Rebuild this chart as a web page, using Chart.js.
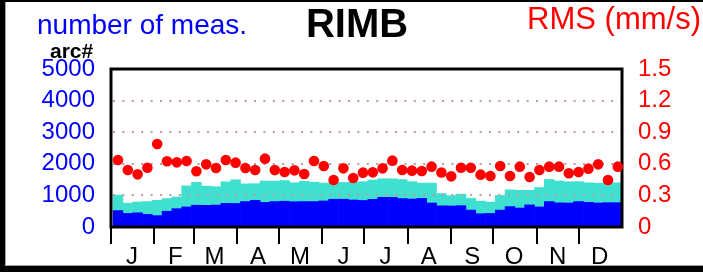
<!DOCTYPE html>
<html>
<head>
<meta charset="utf-8">
<script src="https://cdn.jsdelivr.net/npm/chart.js@4.4.1/dist/chart.umd.min.js"></script>
<style>
  html, body { margin: 0; padding: 0; background: #fff; }
  #frame { position: relative; width: 698px; height: 264px; border-top: 2px solid #000; border-left: 5px solid #000; border-bottom: 6px solid #000; }
  #inner { position: absolute; left: 0; top: 0; width: 697px; height: 263px; border-left: 1px solid #a0a0a0; border-bottom: 1px solid #a0a0a0; }
  .lbl { position: absolute; white-space: nowrap; font-family: "Liberation Sans", Arial, sans-serif; line-height: 1; }
</style>
</head>
<body>
<div id="frame">
  <div id="inner"><canvas id="graph1" width="697" height="263"></canvas></div>
</div>
<div class="lbl" style="left:37px; top:11px; font-size:28px; color:#0000ff;">number of meas.</div>
<div class="lbl" style="left:357px; top:3px; font-size:40px; font-weight:bold; color:#000; transform:translateX(-50%);">RIMB</div>
<div class="lbl" style="right:2px; top:3px; font-size:31px; color:#ff0000;">RMS (mm/s)</div>
<div class="lbl" style="left:50px; top:40px; font-size:21px; font-weight:bold; color:#000;">arc#</div>
<script>
// day of year at the middle of each weekly bin
var weekDays = [5, 12, 19, 26, 33, 40, 47, 54, 61, 68, 75, 82, 89, 96, 103, 110, 117, 124, 131, 138,
  145, 152, 159, 166, 173, 180, 187, 194, 201, 208, 215, 222, 229, 236, 243, 250, 257, 264, 271, 278,
  285, 292, 299, 306, 313, 320, 327, 334, 341, 348, 355, 362];

// number of measurements (blue part, turquoise part on top)
var blueCounts = [520, 430, 450, 400, 360, 500, 580, 635, 690, 685, 695, 750, 745, 805, 845, 780, 805, 815, 800, 805,
  805, 825, 878, 880, 855, 840, 875, 940, 940, 900, 885, 905, 760, 670, 665, 675, 535, 420, 430, 535,
  645, 600, 700, 635, 805, 765, 760, 805, 780, 760, 770, 770];
var cyanCounts = [490, 325, 340, 405, 485, 400, 370, 665, 725, 610, 580, 680, 750, 560, 525, 675, 650, 655, 600, 640,
  615, 565, 522, 530, 560, 595, 610, 585, 585, 600, 550, 485, 630, 390, 330, 365, 375, 400, 360, 465,
  530, 560, 460, 615, 700, 690, 670, 630, 620, 625, 630, 630];

// RMS (mm/s)
var rmsValues = [0.636, 0.541, 0.500, 0.563, 0.788, 0.624, 0.614, 0.627, 0.529, 0.595, 0.560, 0.636, 0.611, 0.560, 0.541, 0.649, 0.540, 0.522, 0.538, 0.503,
  0.627, 0.579, 0.446, 0.557, 0.465, 0.516, 0.519, 0.557, 0.630, 0.541, 0.535, 0.532, 0.573, 0.518, 0.481, 0.563, 0.563, 0.497, 0.484, 0.579,
  0.484, 0.573, 0.475, 0.541, 0.573, 0.573, 0.510, 0.522, 0.554, 0.595, 0.446, 0.573];

var monthStarts = [0, 31, 59, 90, 120, 151, 181, 212, 243, 273, 304, 334];
var monthLabels = ['J', 'F', 'M', 'A', 'M', 'J', 'J', 'A', 'S', 'O', 'N', 'D'];
var countTicks = [0, 1000, 2000, 3000, 4000, 5000];
var rmsTicks = [0, 0.3, 0.6, 0.9, 1.2, 1.5];

var fontFamily = '"Liberation Sans", Arial, sans-serif';

// dotted grid over the bars but under the dots, and the plot frame
var overlay = {
  id: 'overlay',
  beforeDatasetDraw: function(chart, args) {
    if (args.index !== 2) return;
    var ctx = chart.ctx, a = chart.chartArea, y = chart.scales.y;
    ctx.save();
    ctx.strokeStyle = '#bf9999';
    ctx.lineWidth = 2;
    ctx.setLineDash([2, 7.4]);
    y.ticks.forEach(function(t) {
      if (t.value <= 0 || t.value >= 5000) return;
      var py = Math.round(y.getPixelForValue(t.value));
      ctx.beginPath();
      ctx.moveTo(a.left + 2, py);
      ctx.lineTo(a.right, py);
      ctx.stroke();
    });
    ctx.setLineDash([]);
    ctx.strokeStyle = '#000';
    ctx.lineWidth = 3;
    ctx.strokeRect(a.left, a.top, a.right - a.left, a.bottom - a.top);
    ctx.restore();
  },
  // month tick marks hanging under the plot
  afterDraw: function(chart) {
    var ctx = chart.ctx, a = chart.chartArea, x = chart.scales.x;
    ctx.save();
    ctx.fillStyle = '#000000';
    for (var i = 0; i < monthStarts.length; i++) {
      var px = Math.round(x.getPixelForValue(monthStarts[i]));
      ctx.fillRect(px - 1, a.bottom + 1, 2, 16);
    }
    ctx.restore();
  }
};

document.addEventListener('DOMContentLoaded', function() {
  var ctx = document.querySelector('#graph1').getContext('2d');
  var chart = new Chart(ctx, {
    type: 'bar',
    data: {
      datasets: [{
        type: 'bar',
        label: 'arc# blue',
        data: weekDays.map(function(d, i) { return {x: d, y: blueCounts[i]}; }),
        backgroundColor: '#0000ff',
        borderWidth: 0,
        barPercentage: 1,
        categoryPercentage: 1,
        yAxisID: 'y',
        order: 1
      }, {
        type: 'bar',
        label: 'arc# turquoise',
        data: weekDays.map(function(d, i) { return {x: d, y: cyanCounts[i]}; }),
        backgroundColor: '#40e0d0',
        borderWidth: 0,
        barPercentage: 1,
        categoryPercentage: 1,
        yAxisID: 'y',
        order: 2
      }, {
        type: 'scatter',
        label: 'RMS',
        data: weekDays.map(function(d, i) { return {x: d, y: rmsValues[i]}; }),
        backgroundColor: '#ff0000',
        borderColor: '#ff0000',
        borderWidth: 0,
        pointRadius: 5.3,
        yAxisID: 'y1',
        clip: false,
        order: 0
      }]
    },
    options: {
      responsive: false,
      animation: false,
      layout: { padding: { top: 67, left: 0, right: 0, bottom: 0 } },
      plugins: { legend: { display: false }, tooltip: { enabled: false } },
      scales: {
        x: {
          type: 'linear',
          min: 0,
          max: 365,
          offset: false,
          stacked: true,
          afterBuildTicks: function(s) { s.ticks = monthStarts.map(function(v) { return {value: v}; }); },
          afterFit: function(s) { s.height = 38; },
          ticks: {
            autoSkip: false,
            maxRotation: 0,
            color: '#000',
            font: { size: 24, family: fontFamily },
            labelOffset: 21,
            padding: 0,
            callback: function(v, i) { return monthLabels[i]; }
          },
          grid: { display: true, offset: false, drawOnChartArea: false, drawTicks: true, tickLength: 16, tickWidth: 2, tickColor: '#000000', color: '#000000', lineWidth: 2 },
          border: { display: false }
        },
        y: {
          position: 'left',
          min: 0,
          max: 5000,
          stacked: true,
          afterBuildTicks: function(s) { s.ticks = countTicks.map(function(v) { return {value: v}; }); },
          afterFit: function(s) { s.width = 105; },
          ticks: {
            autoSkip: false,
            color: '#0000ff',
            font: { size: 24, family: fontFamily },
            padding: 16,
            callback: function(v) { return String(v); }
          },
          grid: { display: false, drawTicks: false },
          border: { display: false }
        },
        y1: {
          position: 'right',
          min: 0,
          max: 1.5,
          afterBuildTicks: function(s) { s.ticks = rmsTicks.map(function(v) { return {value: v}; }); },
          afterFit: function(s) { s.width = 81; },
          ticks: {
            autoSkip: false,
            color: '#ff0000',
            font: { size: 24, family: fontFamily },
            padding: 16,
            callback: function(v) { return v === 0 ? '0' : v.toFixed(1); }
          },
          grid: { display: false, drawTicks: false },
          border: { display: false }
        }
      }
    },
    plugins: [overlay]
  });
});
</script>
</body>
</html>
